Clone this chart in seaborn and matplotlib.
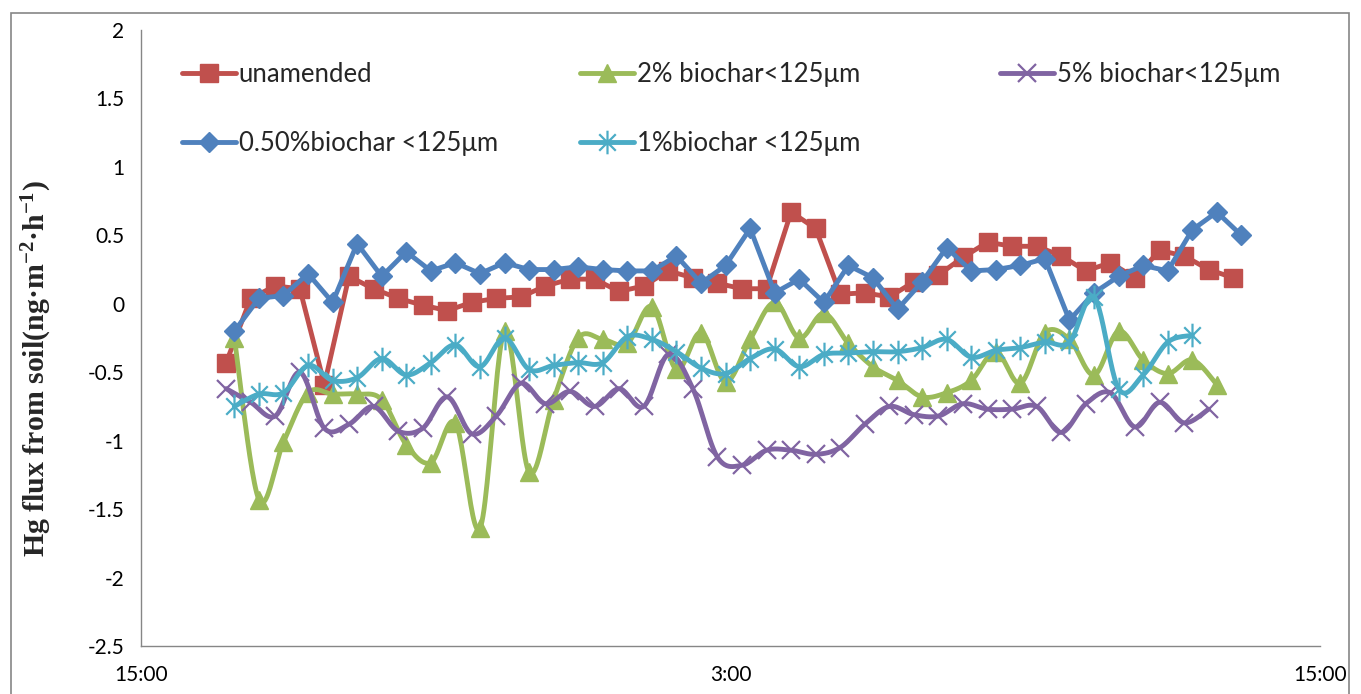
import numpy as np
import pandas as pd
import matplotlib
matplotlib.use("Agg")
import matplotlib.pyplot as plt
import matplotlib.dates as mdates
from matplotlib.path import Path
from matplotlib.lines import Line2D
from matplotlib.patches import Rectangle
from matplotlib.ticker import FuncFormatter
import seaborn as sns

# ---------------- data ----------------
labels = ["unamended", "2% biochar<125μm", "5% biochar<125μm",
          "0.50%biochar <125μm", "1%biochar <125μm"]

unamended = [-0.43, 0.04, 0.13, 0.11, -0.59, 0.20, 0.11, 0.04, -0.01, -0.05,
             0.01, 0.04, 0.05, 0.13, 0.18, 0.18, 0.09, 0.13, 0.24, 0.19,
             0.15, 0.11, 0.11, 0.67, 0.55, 0.07, 0.08, 0.05, 0.16, 0.21,
             0.34, 0.45, 0.42, 0.42, 0.35, 0.24, 0.30, 0.19, 0.39, 0.35,
             0.25, 0.19]

biochar_050 = [-0.20, 0.04, 0.06, 0.22, 0.01, 0.44, 0.20, 0.38, 0.24, 0.30,
               0.22, 0.30, 0.25, 0.25, 0.27, 0.25, 0.24, 0.24, 0.35, 0.15,
               0.28, 0.55, 0.08, 0.18, 0.01, 0.28, 0.19, -0.04, 0.16, 0.41,
               0.24, 0.25, 0.28, 0.33, -0.12, 0.08, 0.20, 0.28, 0.24, 0.54,
               0.67, 0.50]

biochar_2 = [-0.25, -1.43, -1.01, -0.65, -0.66, -0.66, -0.70, -1.03, -1.16, -0.87,
             -1.64, -0.20, -1.23, -0.70, -0.25, -0.26, -0.29, -0.02, -0.48, -0.21,
             -0.57, -0.26, 0.01, -0.25, -0.07, -0.29, -0.46, -0.56, -0.68, -0.65,
             -0.56, -0.35, -0.58, -0.21, -0.26, -0.52, -0.20, -0.41, -0.51, -0.41,
             -0.59]

biochar_5 = [-0.62, -0.72, -0.82, -0.50, -0.91, -0.88, -0.75, -0.93, -0.91, -0.68,
             -0.95, -0.82, -0.58, -0.73, -0.64, -0.75, -0.62, -0.75, -0.37, -0.62,
             -1.12, -1.18, -1.07, -1.07, -1.10, -1.05, -0.88, -0.75, -0.81, -0.82,
             -0.73, -0.77, -0.77, -0.75, -0.94, -0.73, -0.65, -0.90, -0.72, -0.87,
             -0.77]

biochar_1 = [-0.75, -0.66, -0.65, -0.45, -0.56, -0.54, -0.40, -0.52, -0.43, -0.30,
             -0.46, -0.25, -0.48, -0.45, -0.43, -0.43, -0.24, -0.26, -0.35, -0.47,
             -0.51, -0.40, -0.33, -0.46, -0.37, -0.36, -0.35, -0.35, -0.32, -0.26,
             -0.39, -0.34, -0.32, -0.28, -0.28, 0.05, -0.62, -0.52, -0.28, -0.23]

start_a = "2015-06-01 16:44"   # unamended, 5% biochar
start_b = "2015-06-01 16:54"   # 0.50%, 2%, 1% biochar
step = "30min"
x_min, x_max = "2015-06-01 15:00", "2015-06-02 15:00"
y_ticks = [-2.5, -2, -1.5, -1, -0.5, 0, 0.5, 1, 1.5, 2]
y_tick_labels = ["-2.5", "-2", "-1.5", "-1", "-0.5", "0", "0.5", "1", "1.5", "2"]

colors = {"red": "#C0504D", "blue": "#4F81BD", "green": "#9BBB59",
          "purple": "#8064A2", "cyan": "#4BACC6"}

# ---------------- helpers ----------------
def times(start, n):
    return mdates.date2num(pd.date_range(start, periods=n, freq=step).to_pydatetime())

def smooth(x, y, n=24):
    """Excel-like smoothed line (cubic Bezier / Catmull-Rom, tension 1/6)."""
    P = np.column_stack([np.asarray(x, float), np.asarray(y, float)])
    Pm = np.vstack([P[0], P, P[-1]])
    segs = []
    for i in range(len(P) - 1):
        p0, p1, p2, p3 = Pm[i], Pm[i + 1], Pm[i + 2], Pm[i + 3]
        c1 = p1 + (p2 - p0) / 6.0
        c2 = p2 - (p3 - p1) / 6.0
        t = np.linspace(0, 1, n, endpoint=(i == len(P) - 2))[:, None]
        segs.append((1 - t) ** 3 * p1 + 3 * (1 - t) ** 2 * t * c1
                    + 3 * (1 - t) * t ** 2 * c2 + t ** 3 * p2)
    B = np.vstack(segs)
    return B[:, 0], B[:, 1]

asterisk = Path([(-0.7, -0.7), (0.7, 0.7), (-0.7, 0.7), (0.7, -0.7), (0, -1), (0, 1)],
                [Path.MOVETO, Path.LINETO, Path.MOVETO, Path.LINETO,
                 Path.MOVETO, Path.LINETO])

# ---------------- figure ----------------
sns.set_theme(style="white")
plt.rcParams["font.family"] = ["Lato", "DejaVu Sans"]
plt.rcParams["mathtext.fontset"] = "custom"
plt.rcParams["mathtext.rm"] = "Liberation Serif:bold"
plt.rcParams["mathtext.it"] = "Liberation Serif:bold"
plt.rcParams["mathtext.bf"] = "Liberation Serif:bold"

fig = plt.figure(figsize=(13.61, 6.94), dpi=100)
fig.patch.set_facecolor("white")
ax = fig.add_axes([141 / 1361, 48 / 694, 1179 / 1361, 616 / 694])

LW = 3.5
series = [
    # label, times, values, color, marker, size, smoothed
    (labels[0], times(start_a, len(unamended)), unamended, colors["red"], "s", 12.5, False),
    (labels[1], times(start_b, len(biochar_2)), biochar_2, colors["green"], "^", 13.5, True),
    (labels[2], times(start_a, len(biochar_5)), biochar_5, colors["purple"], "x", 13, True),
    (labels[3], times(start_b, len(biochar_050)), biochar_050, colors["blue"], "D", 10.5, False),
    (labels[4], times(start_b, len(biochar_1)), biochar_1, colors["cyan"], asterisk, 17, True),
]

handles = {}
for z, (lab, tx, vals, col, mk, ms, sm) in enumerate(series):
    if sm:
        xs, ys = smooth(tx, vals)
    else:
        xs, ys = np.asarray(tx), np.asarray(vals)
    sns.lineplot(x=xs, y=ys, ax=ax, color=col, linewidth=LW, sort=False,
                 estimator=None, zorder=2 + z * 2, legend=False)
    mew = 1.6 if (mk == "x" or mk is asterisk) else 1.0
    ax.plot(tx, vals, linestyle="none", marker=mk, markersize=ms, color=col,
            markeredgecolor=col, markeredgewidth=mew, zorder=3 + z * 2)
    handles[lab] = Line2D([], [], color=col, linewidth=LW, marker=mk,
                          markersize=ms, markeredgecolor=col, markeredgewidth=mew)

# axes styling
ax.set_xlim(mdates.date2num(pd.Timestamp(x_min)), mdates.date2num(pd.Timestamp(x_max)))
ax.set_ylim(-2.5, 2)
ax.set_yticks(y_ticks)
ax.set_yticklabels(y_tick_labels)
ax.xaxis.set_major_locator(mdates.HourLocator(byhour=[3, 15]))
ax.xaxis.set_major_formatter(FuncFormatter(
    lambda v, p: f"{mdates.num2date(v).hour}:{mdates.num2date(v).minute:02d}"))
for s in ["top", "right"]:
    ax.spines[s].set_visible(False)
for s in ["left", "bottom"]:
    ax.spines[s].set_color("#868686")
    ax.spines[s].set_linewidth(1.0)
ax.tick_params(axis="both", which="major", direction="out", length=6, width=1.0,
               color="#868686", labelsize=15, labelcolor="black", pad=6)
ax.tick_params(axis="x", pad=8)
ax.grid(False)

ax.set_ylabel(r"Hg flux from soil(ng·m$^{-2}$·h$^{-1}$)", family="Liberation Serif",
              fontweight="bold", fontsize=21.5)
ax.yaxis.set_label_coords(-0.074, 0.45)

# legends (three columns, Excel-like spacing)
LFS = 18.5
leg_kw = dict(frameon=False, fontsize=LFS, handlelength=2.1, handletextpad=0.1,
              labelspacing=1.72, borderaxespad=0, borderpad=0, loc="upper left")
cols = [[labels[0], labels[3]], [labels[1], labels[4]], [labels[2]]]
top = 1 - (62 - 30) / 616
anchors = [((182 - 141) / 1179, top), ((580 - 141) / 1179, top), ((1000 - 141) / 1179, top)]
for i, (col_labels, anc) in enumerate(zip(cols, anchors)):
    lg = ax.legend([handles[l] for l in col_labels], col_labels,
                   bbox_to_anchor=anc, **leg_kw)
    if i < len(cols) - 1:
        ax.add_artist(lg)

# outer chart border
fig.patches.append(Rectangle((11 / 1361, -0.05), 1338 / 1361, 1 - 13 / 694 + 0.05,
                             transform=fig.transFigure, fill=False,
                             edgecolor="#868686", linewidth=1.2))

fig.savefig("out.png", dpi=100)
